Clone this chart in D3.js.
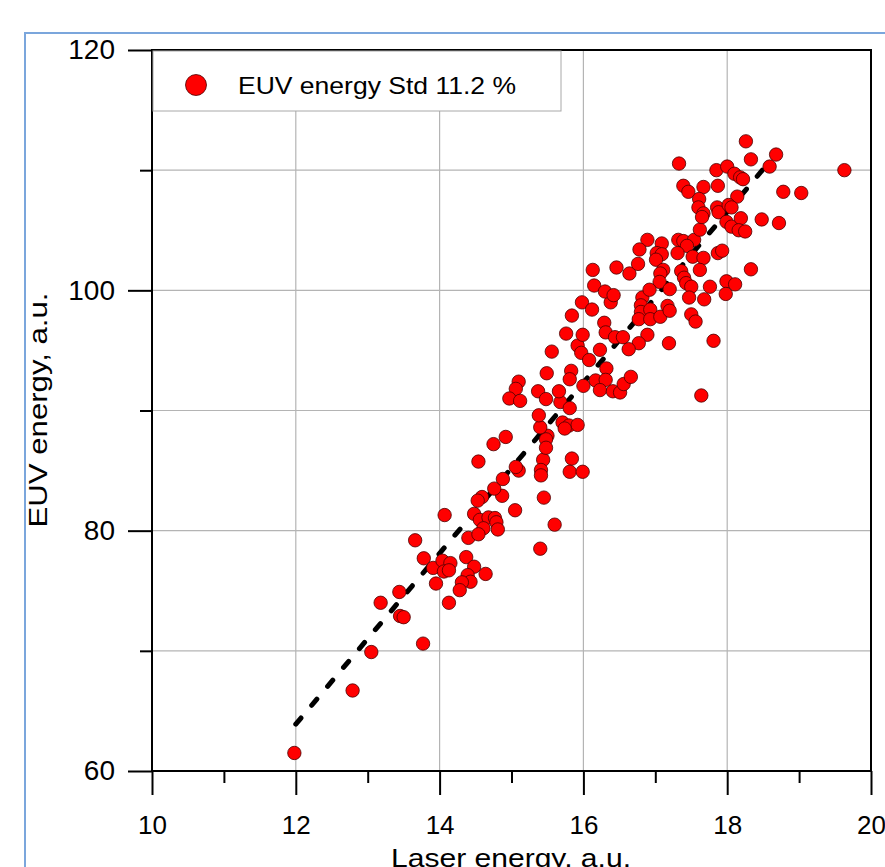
<!DOCTYPE html>
<html>
<head>
<meta charset="utf-8">
<script src="https://cdn.jsdelivr.net/npm/d3@7"></script>
<style>
  body { margin: 0; background: #fff; }
  svg text { font-family: Arial, 'Liberation Sans', sans-serif; fill: #000; }
</style>
</head>
<body>
<svg id="chart" width="885" height="867"></svg>
<script>
const laserEnergy = [
  11.98, 12.79, 13.05, 13.77, 13.18, 13.45, 13.50, 13.44, 13.78, 13.91, 13.95, 14.04, 14.15, 14.06, 14.13, 14.13,
  13.66, 14.07, 14.37, 14.48, 14.64, 14.39, 14.43, 14.31, 14.28, 14.40, 14.48, 14.56, 14.68, 14.77, 14.79, 14.61,
  14.54, 14.81, 14.59, 14.53, 14.87, 14.76, 14.88, 15.05, 15.45, 15.60, 15.40, 14.54, 14.75, 14.92, 15.10, 15.06,
  15.44, 15.41, 15.41, 15.50, 15.48, 15.48, 15.84, 15.81, 15.99, 15.40, 15.38, 15.71, 15.80, 15.92, 15.74, 15.68,
  15.81, 15.37, 15.48, 15.10, 15.06, 14.97, 15.12, 15.66, 16.00, 15.49, 15.83, 15.81, 15.56, 15.92, 15.97, 16.08,
  16.23, 15.76, 15.99, 16.32, 16.17, 16.31, 16.23, 16.41, 16.51, 16.56, 16.66, 15.84, 15.98, 16.12, 16.38, 16.29,
  16.31, 16.44, 16.55, 16.82, 16.80, 16.80, 16.77, 16.89, 16.77, 16.63, 16.89, 16.78, 17.09, 17.02, 17.09, 17.01,
  17.32, 17.39, 17.54, 17.44, 17.31, 17.52, 17.67, 17.62, 17.87, 17.93, 16.46, 16.64, 16.76, 16.13, 16.15, 16.30,
  16.42, 17.11, 17.07, 17.06, 17.36, 17.40, 17.43, 17.62, 17.20, 17.50, 17.76, 17.99, 17.98, 17.47, 17.68, 16.92,
  16.93, 16.93, 17.07, 17.17, 17.20, 17.50, 17.56, 17.81, 17.19, 17.64, 18.26, 17.33, 18.33, 18.68, 18.59, 19.63,
  17.85, 18.00, 18.10, 18.18, 18.22, 17.39, 17.46, 17.67, 17.87, 18.14, 18.78, 19.03, 17.61, 17.60, 17.67, 17.65,
  17.86, 17.88, 18.02, 18.06, 17.99, 18.06, 18.19, 18.16, 18.25, 18.48, 18.72, 18.33, 18.11
]
const euvEnergy = [
  61.5, 66.7, 69.9, 70.6, 74.0, 72.9, 72.8, 74.9, 77.7, 76.9, 75.6, 77.5, 77.3, 76.6, 76.7, 74.0,
  79.2, 81.3, 77.8, 77.0, 76.4, 76.3, 75.75, 75.7, 75.05, 79.4, 81.4, 80.9, 81.1, 81.05, 80.7, 80.2,
  79.7, 80.1, 82.8, 82.5, 82.9, 83.5, 84.3, 81.7, 82.75, 80.5, 78.5, 85.75, 87.2, 87.8, 85.0, 85.3,
  85.9, 85.05, 84.6, 87.9, 87.6, 86.9, 86.0, 84.9, 84.9, 88.6, 89.6, 89.0, 88.75, 88.8, 88.5, 90.7,
  90.2, 91.6, 90.95, 92.4, 91.8, 91.0, 90.8, 91.6, 92.05, 93.1, 93.3, 92.6, 94.9, 95.4, 94.8, 94.2,
  95.05, 96.4, 96.3, 93.5, 92.5, 92.55, 91.7, 91.6, 91.5, 92.2, 92.8, 97.9, 99.0, 98.4, 99.0, 97.3,
  96.5, 96.1, 96.1, 99.4, 98.75, 98.2, 97.6, 96.3, 95.6, 95.1, 104.2, 103.4, 103.9, 103.1, 103.0, 102.55,
  104.2, 104.1, 104.2, 103.7, 103.1, 102.8, 102.7, 105.05, 103.1, 103.3, 101.9, 101.4, 102.2, 101.7, 100.4, 99.9,
  99.6, 101.7, 101.4, 100.7, 101.6, 101.05, 100.6, 101.7, 100.1, 100.3, 100.3, 100.75, 99.7, 99.4, 99.25, 100.05,
  98.4, 97.6, 97.8, 98.7, 98.3, 98.0, 97.4, 95.8, 95.6, 91.25, 112.4, 110.55, 110.9, 111.3, 110.3, 110.0,
  110.0, 110.3, 109.7, 109.4, 109.25, 108.7, 108.2, 108.6, 108.7, 107.8, 108.2, 108.1, 107.6, 106.9, 106.4, 106.1,
  106.9, 106.5, 107.1, 106.9, 105.7, 105.3, 106.0, 105.0, 104.9, 105.9, 105.6, 101.75, 100.5
]

// linear fit drawn as dashed line
const fitLaser = [12, 18.7]
const fitEuv = [63.9, 111.5]

const xTicks = [10, 12, 14, 16, 18, 20]
const xMinorTicks = [11, 13, 15, 17, 19]
const xGrid = [12, 14, 16, 18]
const yTicks = [60, 80, 100, 120]
const yMinorTicks = [70, 90, 110]
const yGrid = [70, 80, 90, 100, 110]
const legendLabel = 'EUV energy Std 11.2 %'

const svg = d3.select('#chart')

const x = d3.scaleLinear().domain([10, 20]).range([152, 871])
const y = d3.scaleLinear().domain([60, 120]).range([771, 50])

// outer blue frame of the figure
svg.append('rect')
  .attr('x', 25).attr('y', 33)
  .attr('width', 900).attr('height', 900)
  .attr('fill', 'none')
  .attr('stroke', '#7ba6dc')
  .attr('stroke-width', 2)

// grid
const grid = svg.append('g').attr('class', 'grid')
  .attr('stroke', '#b4b4b4')
  .attr('stroke-width', 1.2)

grid.selectAll('line.gx')
  .data(xGrid)
  .enter().append('line')
  .attr('class', 'gx')
  .attr('x1', d => x(d)).attr('x2', d => x(d))
  .attr('y1', y(60)).attr('y2', y(120))

grid.selectAll('line.gy')
  .data(yGrid)
  .enter().append('line')
  .attr('class', 'gy')
  .attr('x1', x(10)).attr('x2', x(20))
  .attr('y1', d => y(d)).attr('y2', d => y(d))

// fit line
const fitPoints = fitLaser.map((v, i) => [v, fitEuv[i]])
svg.append('path')
  .datum(fitPoints)
  .attr('d', d3.line().x(d => x(d[0])).y(d => y(d[1])))
  .attr('fill', 'none')
  .attr('stroke', '#000')
  .attr('stroke-width', 5)
  .attr('stroke-linecap', 'round')
  .attr('stroke-dasharray', '8,16.7')

// data points
svg.append('g')
  .attr('class', 'points')
  .selectAll('circle')
  .data(laserEnergy.map((v, i) => [v, euvEnergy[i]]))
  .enter().append('circle')
  .attr('cx', d => x(d[0]))
  .attr('cy', d => y(d[1]))
  .attr('r', 6.7)
  .attr('fill', '#ff0000')
  .attr('stroke', '#4a0000')
  .attr('stroke-width', 0.8)

// axes
const styleAxis = (g, size) => {
  g.selectAll('.domain').remove()
  g.selectAll('.tick line').attr('stroke', '#000').attr('stroke-width', 2)
  g.selectAll('.tick text').attr('font-size', size).attr('font-family', 'Arial, Liberation Sans, sans-serif')
}

svg.append('g')
  .attr('transform', `translate(0,${y(60)})`)
  .call(d3.axisBottom(x).tickValues(xMinorTicks).tickSize(12).tickFormat(''))
  .call(g => styleAxis(g, 0))

svg.append('g')
  .attr('transform', `translate(0,${y(60)})`)
  .call(d3.axisBottom(x).tickValues(xTicks).tickSize(24).tickPadding(21).tickFormat(d3.format('d')))
  .call(g => styleAxis(g, 26))

svg.append('g')
  .attr('transform', `translate(${x(10)},0)`)
  .call(d3.axisLeft(y).tickValues(yMinorTicks).tickSize(12).tickFormat(''))
  .call(g => styleAxis(g, 0))

svg.append('g')
  .attr('transform', `translate(${x(10)},0)`)
  .call(d3.axisLeft(y).tickValues(yTicks).tickSize(24).tickPadding(13).tickFormat(d3.format('d')))
  .call(g => styleAxis(g, 28))

// plot frame
svg.append('rect')
  .attr('x', x(10)).attr('y', y(120))
  .attr('width', x(20) - x(10)).attr('height', y(60) - y(120))
  .attr('fill', 'none')
  .attr('stroke', '#000')
  .attr('stroke-width', 2)

// legend
const legend = svg.append('g').attr('class', 'legend')
legend.append('rect')
  .attr('x', x(10) + 1).attr('y', y(120) + 1)
  .attr('width', 408).attr('height', 60)
  .attr('fill', '#fff')
  .attr('stroke', '#a8a8a8')
  .attr('stroke-width', 1)
legend.append('circle')
  .attr('cx', 196).attr('cy', 85)
  .attr('r', 10.5)
  .attr('fill', '#ff0000')
  .attr('stroke', '#4a0000')
  .attr('stroke-width', 0.8)
legend.append('text')
  .attr('x', 238).attr('y', 94)
  .attr('font-size', 24)
  .attr('textLength', 278)
  .attr('lengthAdjust', 'spacingAndGlyphs')
  .text(legendLabel)

// axis titles
svg.append('text')
  .attr('transform', 'translate(47,410) rotate(-90)')
  .attr('text-anchor', 'middle')
  .attr('font-size', 25)
  .attr('textLength', 235)
  .attr('lengthAdjust', 'spacingAndGlyphs')
  .text('EUV energy, a.u.')

svg.append('text')
  .attr('x', 511).attr('y', 867)
  .attr('text-anchor', 'middle')
  .attr('font-size', 26)
  .attr('textLength', 240)
  .attr('lengthAdjust', 'spacingAndGlyphs')
  .text('Laser energy, a.u.')
</script>
</body>
</html>
